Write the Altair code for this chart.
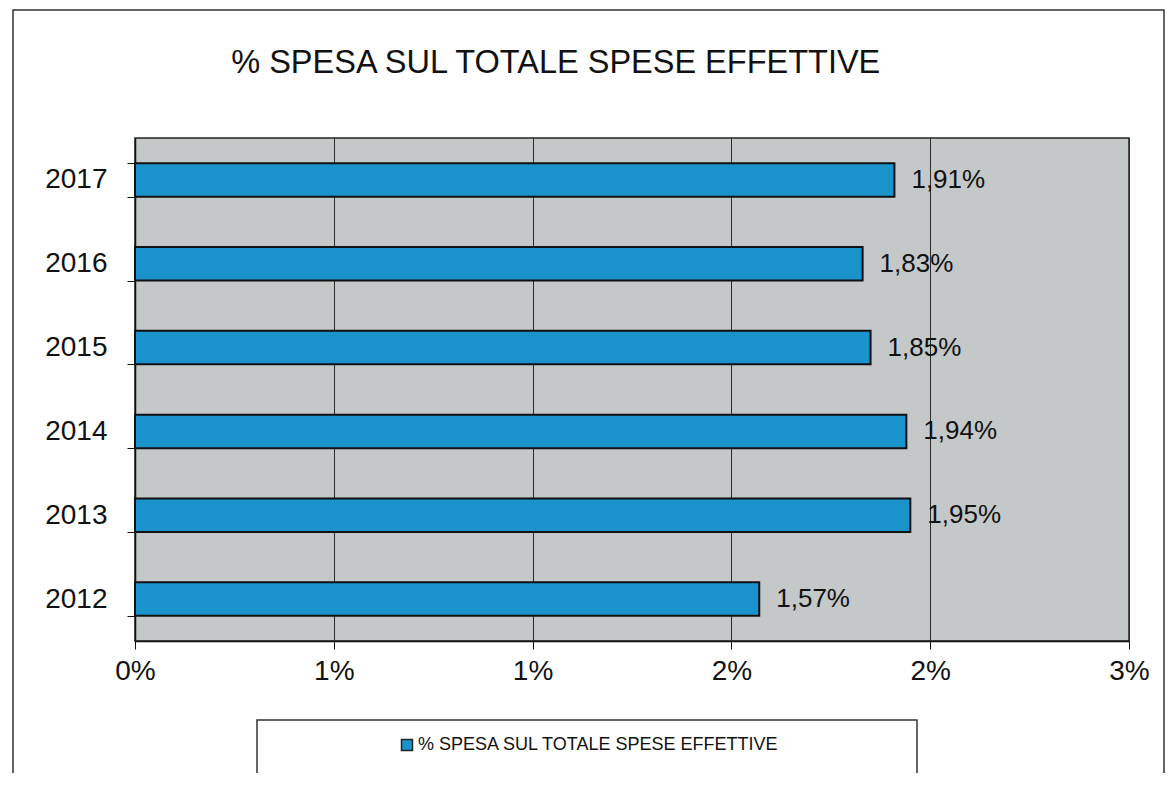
import altair as alt
import pandas as pd

years = ["2017", "2016", "2015", "2014", "2013", "2012"]
values = [1.91, 1.83, 1.85, 1.94, 1.95, 1.57]
value_labels = ["1,91%", "1,83%", "1,85%", "1,94%", "1,95%", "1,57%"]
series_name = "% SPESA SUL TOTALE SPESE EFFETTIVE"
tick_values = [0, 0.5, 1, 1.5, 2, 2.5]
tick_labels = ["0%", "1%", "1%", "2%", "2%", "3%"]

df = pd.DataFrame({"anno": years, "valore": values, "etichetta": value_labels,
                   "serie": [series_name] * len(years)})

FONT = "Liberation Sans"
W, H = 994, 503
BLUE = "#1a93cc"
PLOT_BG = "#c4c8c8"

label_expr = "[" + ",".join(f"'{t}'" for t in tick_labels) + "][indexof([" + \
    ",".join(str(v) for v in tick_values) + "], datum.value)]"

x_enc = alt.X("valore:Q", scale=alt.Scale(domain=[0, 2.5], nice=False, zero=True),
              axis=alt.Axis(values=tick_values, labelExpr=label_expr, title=None,
                            grid=True, gridColor="#2a2a2a", gridWidth=1,
                            domainColor="#111", domainWidth=1.5, tickColor="#111",
                            tickSize=8, labelFontSize=28, labelPadding=8,
                            labelFlush=False,
                            labelFont=FONT, labelColor="#111"))
y_enc = alt.Y("anno:N", sort=years,
              scale=alt.Scale(paddingInner=0.6, paddingOuter=0.3),
              axis=alt.Axis(title=None, tickBand="extent", domainColor="#111",
                            domainWidth=1.5, tickColor="#111", tickSize=8,
                            labelFontSize=28, labelPadding=20, labelFont=FONT,
                            labelColor="#111", grid=False))

base = alt.Chart(df)

bars = base.mark_bar(stroke="#111", strokeWidth=2).encode(
    x=x_enc, y=y_enc,
    color=alt.Color("serie:N", scale=alt.Scale(domain=[series_name], range=[BLUE]),
                    legend=alt.Legend(title=None, orient="none", legendX=263, legendY=598,
                                      symbolType="square", symbolSize=121,
                                      symbolStrokeColor="#222", symbolStrokeWidth=1.5,
                                      labelFontSize=18, labelFont=FONT, labelColor="#111",
                                      labelOffset=2, labelLimit=1000)),
)

texts = base.mark_text(align="left", baseline="middle", dx=17, fontSize=26,
                       font=FONT, color="#111").encode(
    x="valore:Q", y=alt.Y("anno:N", sort=years), text="etichetta:N")

one = alt.Chart(pd.DataFrame({"k": [0]}))
legend_box = one.mark_rect(fill="white", stroke="#333", strokeWidth=1.5).encode(
    x=alt.value(122), x2=alt.value(782), y=alt.value(582), y2=alt.value(639))
outer_box = one.mark_rect(filled=False, stroke="#333", strokeWidth=1.5).encode(
    x=alt.value(-122), x2=alt.value(1029), y=alt.value(-128), y2=alt.value(700))

chart = alt.layer(outer_box, legend_box, bars, texts).properties(
    width=W, height=H,
    background="white",
    title=alt.TitleParams(series_name, anchor="start", dx=219, offset=-96,
                          fontSize=32.5, font=FONT, fontWeight="normal",
                          color="#111", baseline="alphabetic"),
    autosize=alt.AutoSizeParams(type="none"),
    padding={"left": 127, "top": 130, "right": 36, "bottom": 132},
).configure_view(fill=PLOT_BG, fillOpacity=1, stroke="#222", strokeWidth=1.5)

chart.save("out.html", embed_options={"renderer": "svg", "actions": False})
